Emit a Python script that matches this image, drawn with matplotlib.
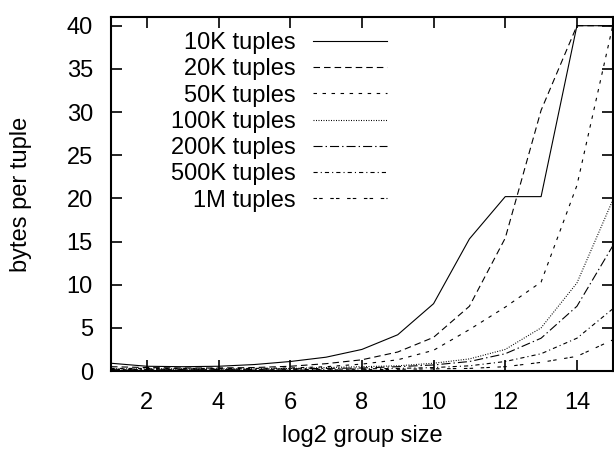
import matplotlib
matplotlib.use("Agg")
import matplotlib.pyplot as plt

plt.rcParams["font.family"] = ["Liberation Sans", "DejaVu Sans"]
plt.rcParams["lines.scale_dashes"] = False

group_size = list(range(1, 16))

tuples_10k = [0.9, 0.55, 0.5, 0.55, 0.75, 1.1, 1.6, 2.5, 4.2, 7.8, 15.3, 20.2, 20.2, 40, 40]
tuples_20k = [0.5, 0.4, 0.35, 0.35, 0.4, 0.55, 0.85, 1.3, 2.2, 3.9, 7.5, 15.4, 30.2, 40, 40]
tuples_50k = [0.3, 0.3, 0.3, 0.3, 0.3, 0.35, 0.5, 0.8, 1.3, 2.4, 4.8, 7.4, 10.3, 21.5, 40]
tuples_100k = [0.25, 0.25, 0.25, 0.25, 0.25, 0.3, 0.4, 0.5, 0.6, 0.9, 1.4, 2.5, 5.0, 10.2, 19.8]
tuples_200k = [0.2, 0.2, 0.2, 0.2, 0.2, 0.25, 0.3, 0.35, 0.5, 0.7, 1.1, 2.0, 3.8, 7.5, 14.5]
tuples_500k = [0.15, 0.15, 0.15, 0.15, 0.15, 0.15, 0.2, 0.25, 0.3, 0.4, 0.6, 1.1, 2.0, 3.8, 7.2]
tuples_1m = [0.1, 0.1, 0.1, 0.1, 0.1, 0.1, 0.12, 0.15, 0.2, 0.25, 0.3, 0.5, 1.0, 1.7, 3.6]

series_labels = ["10K tuples", "20K tuples", "50K tuples", "100K tuples",
                 "200K tuples", "500K tuples", "1M tuples"]
series_values = [tuples_10k, tuples_20k, tuples_50k, tuples_100k,
                 tuples_200k, tuples_500k, tuples_1m]

line_styles = [
    "-",
    (0, (4.7, 2.9)),
    (0, (2.5, 4.0)),
    (0, (0.7, 1.1)),
    (0, (6.5, 2.2, 1.0, 2.2)),
    (0, (3.0, 2.2, 0.8, 2.2)),
    (0, (2.5, 1.6, 2.5, 5.5)),
]

fig = plt.figure(figsize=(6.14, 4.49), dpi=100)
ax = fig.add_axes([0.1808, 0.1737, 0.8172, 0.7883])

for label, values, ls in zip(series_labels, series_values, line_styles):
    ax.plot(group_size, values, color="black", linewidth=0.8,
            linestyle=ls, label=label)

ax.set_xlim(1, 15)
ax.set_ylim(0, 41)
ax.set_xticks(range(2, 15, 2))
ax.set_yticks(range(0, 41, 5))

ax.tick_params(direction="in", length=8, width=1.2, labelsize=17,
               top=True, right=True)
ax.tick_params(axis="x", pad=15)
ax.tick_params(axis="y", pad=13)
for side in ax.spines.values():
    side.set_linewidth(1.5)

ax.set_xlabel("log2 group size", fontsize=17, labelpad=8)
ax.set_ylabel("bytes per tuple", fontsize=17, labelpad=25)

leg = ax.legend(loc="upper left", bbox_to_anchor=(0.1, 0.984),
                frameon=False, markerfirst=False, fontsize=17,
                handlelength=3.1, handletextpad=0.76, labelspacing=0.18,
                borderaxespad=0)

fig.savefig("out.png", dpi=100)
